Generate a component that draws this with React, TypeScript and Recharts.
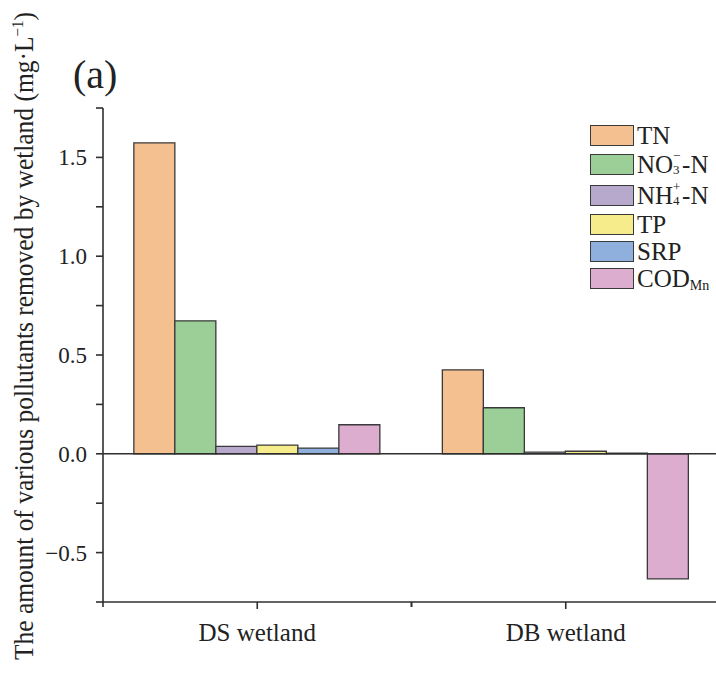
import React from "react";
import { Bar, BarChart, ReferenceLine, XAxis, YAxis } from "recharts";

const wetlands = ["DS wetland", "DB wetland"];
const tnValues = [1.574, 0.425];
const no3Values = [0.673, 0.233];
const nh4Values = [0.038, 0.008];
const tpValues = [0.044, 0.013];
const srpValues = [0.029, 0.003];
const codValues = [0.147, -0.633];

const yTicks = [-0.75, -0.5, -0.25, 0, 0.25, 0.5, 0.75, 1, 1.25, 1.5, 1.75];
const yMajor = [-0.5, 0, 0.5, 1, 1.5];

const series = [
  { key: "TN", base: "TN", sup: "", sub: "", tail: "", color: "#F4C08F" },
  { key: "NO3", base: "NO", sup: "−", sub: "3", tail: "-N", color: "#9BCF97" },
  { key: "NH4", base: "NH", sup: "+", sub: "4", tail: "-N", color: "#B7A9CC" },
  { key: "TP", base: "TP", sup: "", sub: "", tail: "", color: "#F6EC8C" },
  { key: "SRP", base: "SRP", sup: "", sub: "", tail: "", color: "#8FB0DD" },
  { key: "COD", base: "COD", sup: "", sub: "Mn", tail: "", color: "#DDADD0" },
];

const data = wetlands.map((name, i) => ({
  name,
  TN: tnValues[i],
  NO3: no3Values[i],
  NH4: nh4Values[i],
  TP: tpValues[i],
  SRP: srpValues[i],
  COD: codValues[i],
}));

const FONT = "'Liberation Serif', 'Times New Roman', serif";
const INK = "#2f2f2f";

const YTick = (props: any) => {
  const { x, y, payload } = props;
  const v = payload.value;
  if (!yMajor.some((m) => Math.abs(m - v) < 1e-6)) return null;
  const txt = v < 0 ? "−" + Math.abs(v).toFixed(1) : v.toFixed(1);
  return (
    <text x={x} y={y} dy="0.35em" textAnchor="end" fontSize={23} fill="#222" fontFamily={FONT}>
      {txt}
    </text>
  );
};

// category label plus the short ticks on the group boundaries
const XTick = (props: any) => {
  const { x, y, payload, width, visibleTicksCount } = props;
  const half = width / (visibleTicksCount || 2) / 2;
  const axisY = y - 9;
  return (
    <g>
      <line x1={x - half} x2={x - half} y1={axisY} y2={axisY + 5} stroke={INK} strokeWidth={1.6} />
      <line x1={x + half} x2={x + half} y1={axisY} y2={axisY + 5} stroke={INK} strokeWidth={1.6} />
      <text x={x} y={y} dy={30} textAnchor="middle" fontSize={25} fill="#222" fontFamily={FONT}>
        {payload.value}
      </text>
    </g>
  );
};

// legend drawn as an overlay so it doesn't steal space from the plot
const LegendBox = () => (
  <div
    style={{
      position: "absolute",
      left: 590,
      top: 122,
      fontFamily: FONT,
      fontSize: 25,
      color: "#222",
    }}
  >
    {series.map((s) => (
      <div
        key={s.key}
        style={{
          display: "flex",
          alignItems: "center",
          height: s.sup ? 31 : 27,
          whiteSpace: "nowrap",
        }}
      >
        <span
          style={{
            display: "inline-block",
            width: 44,
            height: 21,
            background: s.color,
            border: "1.5px solid #3a3a3a",
            marginRight: 3,
            boxSizing: "border-box",
          }}
        />
        <span>{s.base}</span>
        {s.sup ? (
          <span style={{ position: "relative", display: "inline-block", width: 9, height: 25 }}>
            <span style={{ position: "absolute", left: 0, top: -4, fontSize: 13 }}>{s.sup}</span>
            <span style={{ position: "absolute", left: 0, top: 10, fontSize: 13 }}>{s.sub}</span>
          </span>
        ) : s.sub ? (
          <span style={{ fontSize: 14, position: "relative", top: 7 }}>{s.sub}</span>
        ) : null}
        <span>{s.tail}</span>
      </div>
    ))}
  </div>
);

export default function App() {
  return (
    <div
      style={{
        position: "fixed",
        left: 0,
        top: 0,
        width: 716,
        height: 673,
        overflow: "hidden",
        background: "#fff",
      }}
    >
      <BarChart
        width={760}
        height={673}
        data={data}
        margin={{ top: 108, right: 40, bottom: 21, left: 0 }}
        barCategoryGap="10%"
        barGap={0}
      >
        <XAxis
          xAxisId="cat"
          dataKey="name"
          type="category"
          height={50}
          axisLine={{ stroke: INK, strokeWidth: 1.6 }}
          tickLine={{ stroke: INK, strokeWidth: 1.6 }}
          tickSize={7}
          tickMargin={2}
          tick={<XTick />}
        />
        <XAxis
          xAxisId="top"
          dataKey="name"
          type="category"
          orientation="top"
          height={0}
          axisLine={{ stroke: INK, strokeWidth: 1.6 }}
          tickLine={false}
          tick={false}
        />
        <YAxis
          width={103}
          type="number"
          domain={[-0.75, 1.75]}
          ticks={yTicks}
          interval={0}
          allowDataOverflow
          axisLine={{ stroke: INK, strokeWidth: 1.6 }}
          tickLine={{ stroke: INK, strokeWidth: 1.6 }}
          tickSize={7}
          tickMargin={9}
          tick={<YTick />}
        />
        <ReferenceLine xAxisId="cat" y={0} stroke={INK} strokeWidth={1.6} />
        {series.map((s) => (
          <Bar
            key={s.key}
            xAxisId="cat"
            dataKey={s.key}
            fill={s.color}
            stroke="#3a3a3a"
            strokeWidth={1.3}
            isAnimationActive={false}
          />
        ))}
      </BarChart>
      <LegendBox />
      <svg
        width={716}
        height={673}
        style={{ position: "absolute", left: 0, top: 0, pointerEvents: "none" }}
      >
        <text x={73} y={88} fontSize={40} fill="#222" fontFamily={FONT}>
          (a)
        </text>
        <text
          x={33}
          y={336}
          transform="rotate(-90 33 336)"
          textAnchor="middle"
          fontSize={27}
          fill="#222"
          fontFamily={FONT}
          textLength={648}
          lengthAdjust="spacingAndGlyphs"
        >
          The amount of various pollutants removed by wetland (mg·L
          <tspan dy={-10} fontSize={16}>−1</tspan>
          <tspan dy={10}>)</tspan>
        </text>
      </svg>
    </div>
  );
}
